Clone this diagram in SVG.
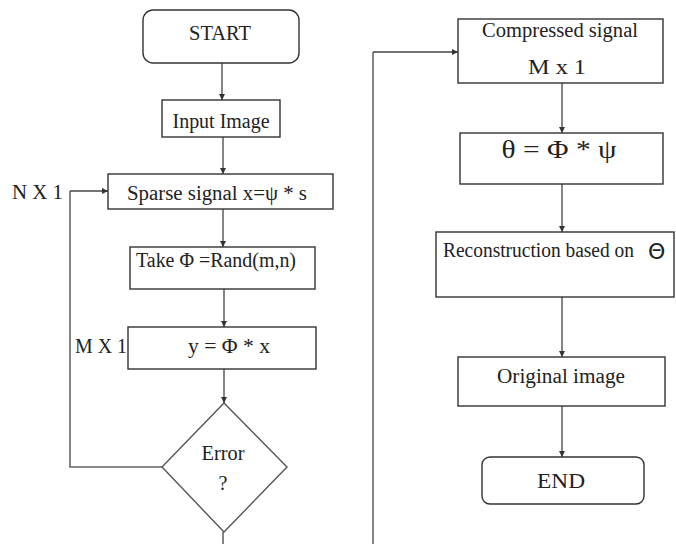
<svg xmlns="http://www.w3.org/2000/svg" width="676" height="544" viewBox="0 0 676 544">
<style>
.box{fill:#fff;stroke:#333;stroke-width:1.4}
.dia{fill:#fff;stroke:#555;stroke-width:1.4}
.ln{fill:none;stroke:#444;stroke-width:1.3}
.lp{fill:none;stroke:#666;stroke-width:1.6}
text{font-family:"Liberation Serif","Times New Roman",serif;font-size:20px;fill:#222}
.c{text-anchor:middle}
</style>
<defs>
<marker id="ah" viewBox="0 0 10 10" refX="10" refY="5" markerWidth="6" markerHeight="6" orient="auto" markerUnits="userSpaceOnUse">
<path d="M0,0 L10,5 L0,10 z" fill="#333"/>
</marker>
</defs>
<rect width="676" height="544" fill="#fff"/>
<g id="connectors">
<line class="ln" x1="222" y1="63" x2="222" y2="100" marker-end="url(#ah)"/>
<line class="ln" x1="223" y1="137" x2="223" y2="174" marker-end="url(#ah)"/>
<line class="ln" x1="223" y1="209" x2="223" y2="247" marker-end="url(#ah)"/>
<line class="ln" x1="224" y1="289" x2="224" y2="327" marker-end="url(#ah)"/>
<line class="ln" x1="224" y1="369" x2="224" y2="403" marker-end="url(#ah)"/>
<polyline class="lp" points="162,467 70,467 70,191"/>
<line class="ln" x1="70" y1="191" x2="108" y2="191" marker-end="url(#ah)"/>
<line class="lp" x1="223" y1="532" x2="223" y2="544"/>
<line class="lp" x1="373" y1="544" x2="373" y2="52"/>
<line class="ln" x1="373" y1="52" x2="458" y2="52" marker-end="url(#ah)"/>
<line class="ln" x1="562" y1="83" x2="562" y2="133" marker-end="url(#ah)"/>
<line class="ln" x1="562" y1="184" x2="562" y2="232" marker-end="url(#ah)"/>
<line class="ln" x1="562" y1="297" x2="562" y2="357" marker-end="url(#ah)"/>
<line class="ln" x1="562" y1="406" x2="562" y2="457" marker-end="url(#ah)"/>
</g>
<g id="start">
<rect class="box" x="143" y="10" width="156" height="53" rx="10"/>
<text class="c" x="220" y="40" textLength="62" lengthAdjust="spacingAndGlyphs">START</text>
</g>
<g id="input">
<rect class="box" x="162" y="100" width="118" height="37"/>
<text class="c" x="221" y="128" textLength="97" lengthAdjust="spacingAndGlyphs">Input Image</text>
</g>
<g id="sparse">
<rect class="box" x="108" y="174" width="225" height="35"/>
<text x="127" y="200" textLength="180" lengthAdjust="spacingAndGlyphs">Sparse signal x=ψ * s</text>
</g>
<g id="nx1">
<text x="12" y="199" textLength="51" lengthAdjust="spacingAndGlyphs">N X 1</text>
</g>
<g id="take">
<rect class="box" x="130" y="247" width="185" height="42"/>
<text x="136" y="267" textLength="160" lengthAdjust="spacingAndGlyphs">Take Φ =Rand(m,n)</text>
</g>
<g id="measure">
<rect class="box" x="128" y="327" width="188" height="42"/>
<text class="c" x="229" y="353" textLength="82" lengthAdjust="spacingAndGlyphs">y = Φ * x</text>
</g>
<g id="mx1">
<text x="75" y="353" textLength="52" lengthAdjust="spacingAndGlyphs">M X 1</text>
</g>
<g id="error">
<polygon class="dia" points="224,403 287,467 224,532 162,467"/>
<text class="c" x="223" y="460" textLength="43" lengthAdjust="spacingAndGlyphs">Error</text>
<text class="c" x="223" y="490">?</text>
</g>
<g id="compressed">
<rect class="box" x="458" y="19" width="205" height="64"/>
<text class="c" x="560" y="37" textLength="156" lengthAdjust="spacingAndGlyphs">Compressed signal</text>
<text class="c" x="557" y="74" textLength="58" lengthAdjust="spacingAndGlyphs">M x 1</text>
</g>
<g id="theta">
<rect class="box" x="460" y="133" width="203" height="51"/>
<text class="c" x="559" y="158" style="font-size:26px" textLength="115" lengthAdjust="spacingAndGlyphs">θ = Φ * ψ</text>
</g>
<g id="recon">
<rect class="box" x="436" y="232" width="238" height="65"/>
<text x="443" y="257" textLength="191" lengthAdjust="spacingAndGlyphs">Reconstruction based on</text>
<text x="648" y="259" style="font-size:22px;font-family:'DejaVu Sans',sans-serif">Θ</text>
</g>
<g id="original">
<rect class="box" x="458" y="357" width="207" height="49"/>
<text class="c" x="561" y="383" textLength="128" lengthAdjust="spacingAndGlyphs">Original image</text>
</g>
<g id="end">
<rect class="box" x="482" y="457" width="162" height="47" rx="8"/>
<text class="c" x="561" y="488" textLength="48" lengthAdjust="spacingAndGlyphs">END</text>
</g>
</svg>
